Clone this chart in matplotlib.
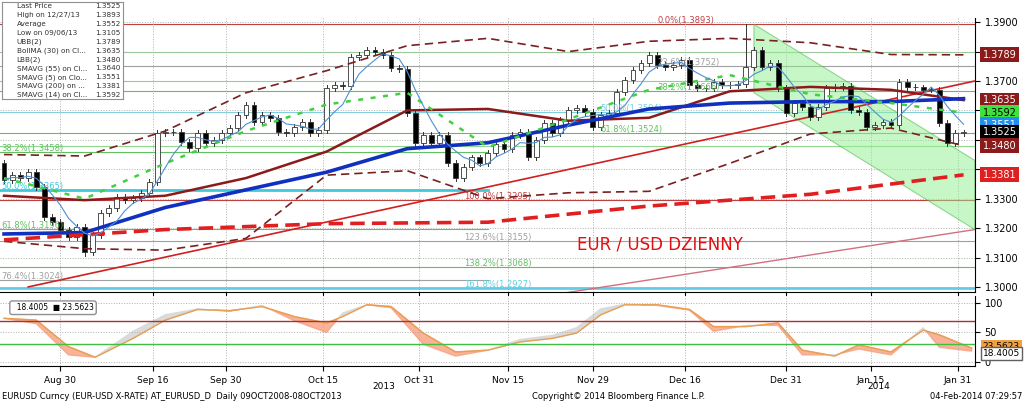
import matplotlib
matplotlib.use("Agg")
import matplotlib.pyplot as plt
import numpy as np
import pandas as pd
from matplotlib.patches import Polygon

closes = [1.3364,1.3380,1.3369,1.3392,1.3341,1.3239,1.3222,1.3194,1.3171,1.3205,1.3120,1.3177,1.3250,1.3267,1.3307,1.3296,1.3301,1.3320,1.3358,1.3522,1.3528,1.3526,1.3494,1.3471,1.3522,1.3488,1.3499,1.3522,1.3540,
          1.3585,1.3618,1.3562,1.3585,1.3573,1.3528,1.3522,1.3545,1.3562,1.3522,1.3533,1.3675,1.3686,1.3684,1.3782,1.3788,1.3805,1.3800,1.3788,1.3743,1.3740,1.3591,1.3488,1.3516,1.3488,1.3516,1.3420,1.3369,1.3409,1.3440,
          1.3420,1.3455,1.3485,1.3470,1.3515,1.3528,1.3443,1.3499,1.3556,1.3522,1.3567,1.3601,1.3607,1.3595,1.3544,1.3584,1.3590,1.3663,1.3703,1.3737,1.3760,1.3788,1.3754,1.3748,1.3754,1.3771,1.3686,1.3675,
          1.3675,1.3697,1.3686,1.3686,1.3690,1.3748,1.3805,1.3748,1.3760,1.3675,1.3590,1.3624,1.3612,1.3578,1.3612,1.3675,1.3680,1.3683,1.3601,1.3595,1.3544,1.3550,1.3561,1.3550,1.3697,1.3680,1.3678,1.3671,1.3671,1.3556,1.3488,1.3524,1.3525]
first_open = 1.3420
high_special = {92: 1.3893}
low_special = {10: 1.3105}

ma_idx = [0,10,20,30,40,50,60,70,80,90,100,110,119]
sma55 = [1.318,1.3185,1.327,1.333,1.339,1.347,1.349,1.355,1.3605,1.3625,1.363,1.363,1.3640]
bollma = [1.331,1.3295,1.331,1.337,1.346,1.360,1.3605,1.3565,1.3575,1.3665,1.368,1.367,1.3635]
ubb = [1.345,1.3445,1.353,1.366,1.3735,1.382,1.3845,1.380,1.3835,1.3845,1.383,1.379,1.3789]
lbb = [1.3155,1.3130,1.3125,1.3165,1.338,1.3395,1.330,1.332,1.3325,1.342,1.352,1.354,1.3480]
sma14 = [1.337,1.330,1.342,1.353,1.362,1.366,1.3475,1.357,1.367,1.372,1.3655,1.3625,1.3592]
sma200_idx = [0,20,40,60,80,100,119]
sma200 = [1.316,1.3195,1.3215,1.322,1.3275,1.3315,1.3381]

osc_idx = [0,4,8,11.3,16,20,24,28,32,36,40,42,45,48,52,56,60,64,68,71,74,77,81,85,88,92,96,99,103,106,110,114,116,120]
osc_slow = [74,71,26,8,40,71,89,87,94,77,66,77,97,94,49,17,20,34,40,49,80,97,97,89,60,60,66,20,10,29,17,54,46,23.56]
osc_fast = [74,65,12,8,52,80,90,86,96,70,50,83,97,92,30,10,20,38,45,58,90,98,96,88,52,62,62,12,12,22,12,58,25,18.4]

tick_pos = [7,18.5,27.5,39.5,51.5,62.5,73,84.5,97,107.5,118.3]
tick_labels = ["Aug 30","Sep 16","Sep 30","Oct 15","Oct 31","Nov 15","Nov 29","Dec 16","Dec 31","Jan 15","Jan 31"]
price_ticks = [1.30,1.31,1.32,1.33,1.34,1.35,1.36,1.37,1.38,1.39]
price_tick_labels = ["1.3000","1.3100","1.3200","1.3300","","","","1.3700","","1.3900"]

fib_right = [("0.0%(1.3893)",1.3893,"#c04040",81),("23.6%(1.3752)",1.3752,"#a0a0a0",81),("38.2%(1.3666)",1.3666,"#60c060",81),
             ("50.0%(1.3594)",1.3594,"#80d0e0",74),("61.8%(1.3524)",1.3524,"#60c060",74),("100.0%(1.3295)",1.3295,"#c04040",57),
             ("123.6%(1.3155)",1.3155,"#a0a0a0",57),("138.2%(1.3068)",1.3068,"#60c060",57),("161.8%(1.2927)",1.2995,"#60d0e0",57)]
fib_left = [("38.2%(1.3458)",1.3458,"#60c060"),("50.0%(1.3365)",1.3330,"#40c8d8"),("61.8%(1.3196)",1.3196,"#60c060"),("76.4%(1.3024)",1.3024,"#a0a0a0")]

fig = plt.figure(figsize=(10.24,4.01), dpi=100)
ax = fig.add_axes([0.0, 0.272, 0.952, 0.683])
ax2 = fig.add_axes([0.0, 0.087, 0.952, 0.175])
n = len(closes)
x = np.arange(n)
opens = [first_open] + closes[:-1]
for i in range(n):
    o, c = opens[i], closes[i]
    hi = high_special.get(i, max(o, c) + 0.0010)
    lo = low_special.get(i, min(o, c) - 0.0010)
    ax.plot([i, i], [lo, hi], color="#333333", lw=0.7, zorder=4)
    col = "black" if c < o else "white"
    ax.bar(i, max(abs(c - o), 0.0002), bottom=min(o, c), width=0.6, color=col, edgecolor="#333333", lw=0.6, zorder=5)

for lbl, v, col, xp in fib_right:
    lw = 2 if col == "#60d0e0" else 0.8
    ax.axhline(v, color=col, lw=lw, zorder=1)
    ax.text(xp, v + 0.0004, lbl, fontsize=6, color=col, zorder=6)
for lbl, v, col in fib_left:
    lw = 2 if col == "#40c8d8" else 0.8
    ax.plot([-0.5, 60], [v, v], color=col, lw=lw, zorder=1)
    ax.text(-0.3, v + 0.0004, lbl, fontsize=6, color=col, zorder=6)
for v in [1.3700, 1.3800, 1.3480]:
    ax.axhline(v, color="#90d890", lw=0.8, zorder=1)

chan = Polygon([[93, 1.3893], [120.4, 1.3430], [120.4, 1.3195], [93, 1.3660]], closed=True,
               facecolor="#90ee90", alpha=0.5, edgecolor="#40b040", lw=0.8, zorder=2)
ax.add_patch(chan)
ax.plot([3, 120.4], [1.3000, 1.3700], color="#d02020", lw=1.2, zorder=3)
ax.plot([59, 120.4], [1.2935, 1.3195], color="#d07080", lw=1.0, zorder=3)

ax.plot(ma_idx, ubb, color="#7a2020", lw=1.2, ls=(0, (5, 3)), zorder=6)
ax.plot(ma_idx, lbb, color="#7a2020", lw=1.2, ls=(0, (5, 3)), zorder=6)
ax.plot(ma_idx, bollma, color="#8b1a1a", lw=1.8, zorder=6)
ax.plot(ma_idx, sma55, color="#1030c0", lw=2.6, zorder=6)
ax.plot(ma_idx, sma14, color="#40d040", lw=1.8, ls=(0, (2, 3)), zorder=6)
ax.plot(sma200_idx, sma200, color="#e02020", lw=2.6, ls=(0, (4, 2)), zorder=6)
sma5 = pd.Series(closes).rolling(5, min_periods=1).mean()
ax.plot(x, sma5, color="#5090d0", lw=0.8, zorder=6)

ax.text(71, 1.3145, "EUR / USD DZIENNY", color="#e01010", fontsize=12, va="center", zorder=7)

ax.set_xlim(-0.5, 120.4)
ax.set_ylim(1.2983, 1.3914)
ax.yaxis.tick_right()
ax.set_yticks(price_ticks)
ax.set_yticklabels(price_tick_labels, fontsize=7)
ax.set_xticks(tick_pos)
ax.set_xticklabels([])
ax.grid(True, color="#b0b0b0", ls=":", lw=0.7)
for s in ["top", "left"]:
    ax.spines[s].set_visible(False)

boxes = [(1.3789, "#8b1a1a", "white"), (1.3635, "#8b1a1a", "white"), (1.3592, "#40e040", "black"),
         (1.3551, "#2090f0", "white"), (1.3525, "black", "white"), (1.3480, "#8b1a1a", "white"), (1.3381, "#e02020", "white")]
for v, bg, fg in boxes:
    ax.text(1.008, v, f"{v:.4f}", transform=ax.get_yaxis_transform(), fontsize=7, color=fg, va="center",
            bbox=dict(boxstyle="square,pad=0.25", fc=bg, ec="none"), zorder=10, clip_on=False)

legend_txt = [("Last Price", "1.3525"), ("High on 12/27/13", "1.3893"), ("Average", "1.3552"), ("Low on 09/06/13", "1.3105"),
              ("UBB(2)", "1.3789"), ("BollMA (30) on Cl...", "1.3635"), ("LBB(2)", "1.3480"), ("SMAVG (55) on Cl...", "1.3640"),
              ("SMAVG (5) on Clo...", "1.3551"), ("SMAVG (200) on ...", "1.3381"), ("SMAVG (14) on Cl...", "1.3592")]
lax = fig.add_axes([0.002, 0.752, 0.118, 0.243])
lax.set_xlim(0, 1); lax.set_ylim(0, 11)
lax.set_xticks([]); lax.set_yticks([])
lax.set_facecolor("white")
for s in lax.spines.values():
    s.set_color("#909090")
for k, (a, b) in enumerate(legend_txt):
    yy = 10.5 - k
    lax.text(0.12, yy, a, fontsize=5.2, va="center", color="#303030")
    lax.text(0.98, yy, b, fontsize=5.2, va="center", ha="right", color="#303030")

ax2.fill_between(osc_idx, osc_slow, osc_fast, where=np.array(osc_fast) < np.array(osc_slow), color="#f8a080", alpha=0.8, interpolate=True)
ax2.fill_between(osc_idx, osc_slow, osc_fast, where=np.array(osc_fast) >= np.array(osc_slow), color="#d8d8d8", alpha=0.9, interpolate=True)
ax2.plot(osc_idx, osc_slow, color="#e8a050", lw=1)
ax2.axhline(70, color="#b03030", lw=1)
ax2.axhline(30, color="#40c040", lw=1)
ax2.set_xlim(-0.5, 120.4)
ax2.set_ylim(-7, 112)
ax2.yaxis.tick_right()
ax2.set_yticks([0, 50, 100])
ax2.set_yticklabels(["0", "50", "100"], fontsize=7)
ax2.set_xticks(tick_pos)
ax2.set_xticklabels(tick_labels, fontsize=6.5)
ax2.grid(True, color="#b0b0b0", ls=":", lw=0.7)
for s in ["top", "left"]:
    ax2.spines[s].set_visible(False)
ax2.text(1.008, 26, "23.5623", transform=ax2.get_yaxis_transform(), fontsize=6.5, color="black", va="center",
         bbox=dict(boxstyle="square,pad=0.2", fc="#f0a040", ec="none"), clip_on=False)
ax2.text(1.008, 14, "18.4005", transform=ax2.get_yaxis_transform(), fontsize=6.5, color="black", va="center",
         bbox=dict(boxstyle="square,pad=0.2", fc="white", ec="#606060"), clip_on=False)
ax2.text(1, 92, "  18.4005  \u25a0 23.5623", fontsize=5.5, va="center",
         bbox=dict(boxstyle="round,pad=0.3", fc="white", ec="#909090"))

fig.text(0.375, 0.030, "2013", fontsize=6.5, ha="center")
fig.text(0.858, 0.030, "2014", fontsize=6.5, ha="center")
fig.text(0.002, 0.006, "EURUSD Curncy (EUR-USD X-RATE) AT_EURUSD_D  Daily 09OCT2008-08OCT2013", fontsize=6)
fig.text(0.52, 0.006, "Copyright\u00a9 2014 Bloomberg Finance L.P.", fontsize=6)
fig.text(0.998, 0.006, "04-Feb-2014 07:29:57", fontsize=6, ha="right")

fig.savefig("out.png", dpi=100)
